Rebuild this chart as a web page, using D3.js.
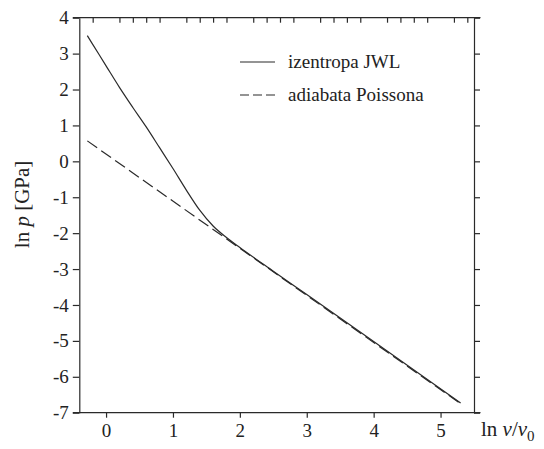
<!DOCTYPE html>
<html>
<head>
<meta charset="utf-8">
<script src="https://cdn.jsdelivr.net/npm/d3@7"></script>
<style>
  body { margin: 0; background: #fff; }
  text { font-family: "Liberation Serif", "Times New Roman", serif; fill: #222; }
</style>
</head>
<body>
<div id="chart"></div>
<script>
// JWL isentrope (ln v/v0, ln p)
const jwlX = [-0.28, -0.1, 0, 0.2, 0.4, 0.6, 0.8, 1.0, 1.2, 1.4, 1.6, 1.8, 2.0, 2.5, 3.0, 4.0, 5.3];
const jwlY = [3.5, 2.96, 2.66, 2.06, 1.5, 0.96, 0.38, -0.2, -0.8, -1.36, -1.8, -2.12, -2.4, -3.06, -3.71, -5.02, -6.73];
// Poisson adiabat (straight line in log-log)
const poissonX = [-0.28, 5.3];
const poissonY = [0.57, -6.75];

const xTicks = [0, 1, 2, 3, 4, 5];
const yTicks = [4, 3, 2, 1, 0, -1, -2, -3, -4, -5, -6, -7];
// small ticks on the top edge, every 0.2 but not on whole numbers
const topTicks = d3.range(-2, 55, 2).map(d => d / 10).filter(d => d % 1 !== 0);

const legendItems = ["izentropa JWL", "adiabata Poissona"];

const width = 544, height = 449;
const margin = { top: 17.7, right: 70, bottom: 36.3, left: 79.3 };
const innerW = width - margin.left - margin.right;
const innerH = height - margin.top - margin.bottom;
const ink = "#2a2a2a";
const serif = "Liberation Serif, serif";

const svg = d3.select("#chart").append("svg")
    .attr("width", width)
    .attr("height", height);
const g = svg.append("g")
    .attr("transform", "translate(" + margin.left + "," + margin.top + ")");

const x = d3.scaleLinear().domain([-0.4, 5.5]).range([0, innerW]);
const y = d3.scaleLinear().domain([-7, 4]).range([innerH, 0]);

// frame: horizontal lines run a bit past the verticals
const over = 6.5;
g.append("line").attr("x1", -over).attr("x2", innerW + over).attr("y1", 0).attr("y2", 0)
    .attr("stroke", ink).attr("stroke-width", 1.2);
g.append("line").attr("x1", -over).attr("x2", innerW + over).attr("y1", innerH).attr("y2", innerH)
    .attr("stroke", ink).attr("stroke-width", 1.2);

// bottom axis
const xAxis = g.append("g")
    .attr("transform", "translate(0," + innerH + ")")
    .call(d3.axisBottom(x).tickValues(xTicks).tickSize(5).tickSizeOuter(0).tickPadding(6)
        .tickFormat(d3.format("d")));
xAxis.attr("font-family", serif).attr("font-size", 19);
xAxis.select(".domain").remove();
xAxis.selectAll("line").attr("stroke", ink).attr("stroke-width", 1.2);
xAxis.selectAll("text").attr("fill", "#222");

// top minor ticks, pointing inward
const topAxis = g.append("g")
    .call(d3.axisTop(x).tickValues(topTicks).tickSize(-5).tickSizeOuter(0).tickFormat(""));
topAxis.select(".domain").remove();
topAxis.selectAll("line").attr("stroke", ink).attr("stroke-width", 1.2);

// left axis
const yAxis = g.append("g")
    .call(d3.axisLeft(y).tickValues(yTicks).tickSize(6.5).tickSizeOuter(0).tickPadding(4)
        .tickFormat(d3.format("d")));
yAxis.attr("font-family", serif).attr("font-size", 19);
yAxis.select(".domain").attr("stroke", ink).attr("stroke-width", 1.2);
yAxis.selectAll("line").attr("stroke", ink).attr("stroke-width", 1.2);
yAxis.selectAll("text").attr("fill", "#222").text(d => String(d));

// right axis, ticks outward, no labels
const rAxis = g.append("g")
    .attr("transform", "translate(" + innerW + ",0)")
    .call(d3.axisRight(y).tickValues(yTicks).tickSize(6).tickSizeOuter(0).tickFormat(""));
rAxis.select(".domain").attr("stroke", ink).attr("stroke-width", 1.2);
rAxis.selectAll("line").attr("stroke", ink).attr("stroke-width", 1.2);

// curves
const line = d3.line()
    .x(d => x(d[0]))
    .y(d => y(d[1]))
    .curve(d3.curveMonotoneX);

g.append("path")
    .datum(poissonX.map((v, i) => [v, poissonY[i]]))
    .attr("d", line)
    .attr("fill", "none")
    .attr("stroke", ink)
    .attr("stroke-width", 1.2)
    .attr("stroke-dasharray", "12,5");

g.append("path")
    .datum(jwlX.map((v, i) => [v, jwlY[i]]))
    .attr("d", line)
    .attr("fill", "none")
    .attr("stroke", ink)
    .attr("stroke-width", 1.2);

// legend
const legend = svg.append("g");
legendItems.forEach((name, i) => {
    const ly = 62 + i * 33;
    legend.append("line")
        .attr("x1", 240).attr("x2", 275).attr("y1", ly).attr("y2", ly)
        .attr("stroke", ink).attr("stroke-width", 1.2)
        .attr("stroke-dasharray", i === 1 ? "9,4" : null);
    legend.append("text")
        .attr("x", 288).attr("y", ly + 6)
        .attr("font-size", 19)
        .text(name);
});

// axis titles
const yTitle = svg.append("text")
    .attr("transform", "translate(29," + (margin.top + y(-1.2)) + ") rotate(-90)")
    .attr("text-anchor", "middle")
    .attr("font-size", 21);
yTitle.append("tspan").text("ln ");
yTitle.append("tspan").attr("font-style", "italic").text("p");
yTitle.append("tspan").text(" [GPa]");

const xTitle = svg.append("text")
    .attr("x", 481)
    .attr("y", 436)
    .attr("font-size", 21);
xTitle.append("tspan").text("ln ");
xTitle.append("tspan").attr("font-style", "italic").text("ν");
xTitle.append("tspan").text("/");
xTitle.append("tspan").attr("font-style", "italic").text("ν");
xTitle.append("tspan").attr("font-size", 15).attr("dy", 5).text("0");
</script>
</body>
</html>
